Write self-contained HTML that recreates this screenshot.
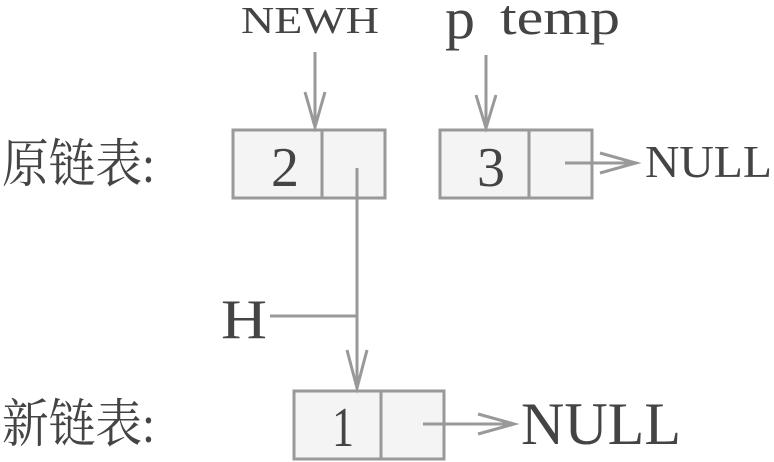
<!DOCTYPE html>
<html><head><meta charset="utf-8"><style>
html,body{margin:0;padding:0;background:#fff;}
svg{display:block;}
</style></head><body>
<svg width="774" height="462" viewBox="0 0 774 462" xmlns="http://www.w3.org/2000/svg">
<g fill="#f4f4f4" stroke="#999" stroke-width="3">
<rect x="233" y="130" width="152" height="68"/>
<line x1="322" y1="130" x2="322" y2="198"/>
<rect x="440" y="130" width="152" height="68"/>
<line x1="529" y1="130" x2="529" y2="198"/>
<rect x="294" y="391" width="150" height="68"/>
<line x1="381" y1="391" x2="381" y2="459"/>
</g>
<g stroke="#999" stroke-width="3" fill="none">
<line x1="315" y1="52" x2="315" y2="127"/>
<polyline points="305,92 315,127 325,92"/>
<line x1="486" y1="55" x2="486" y2="128"/>
<polyline points="476,95 486,128 496,95"/>
<line x1="357" y1="168" x2="357" y2="388"/>
<polyline points="347,350 357,388 367,350"/>
<line x1="270" y1="316" x2="357" y2="316"/>
<line x1="565" y1="163" x2="636" y2="163"/>
<polyline points="600,153 636,163 600,173"/>
<line x1="423" y1="424" x2="514" y2="424"/>
<polyline points="478,414 514,424 478,434"/>
</g>
<g fill="#444" font-family="'Liberation Serif','Noto Serif CJK SC',serif">
<text x="241" y="33" font-size="38" textLength="138" lengthAdjust="spacingAndGlyphs">NEWH</text>
<text x="445" y="38" font-size="58" textLength="30" lengthAdjust="spacingAndGlyphs">p</text>
<text x="500" y="34" font-size="50" textLength="120" lengthAdjust="spacingAndGlyphs">temp</text>
<text x="2" y="182" font-size="52" textLength="153" lengthAdjust="spacingAndGlyphs">原链表:</text>
<text x="2" y="442" font-size="52" textLength="153" lengthAdjust="spacingAndGlyphs">新链表:</text>
<text x="271" y="186" font-size="56" textLength="28" lengthAdjust="spacingAndGlyphs">2</text>
<text x="477" y="186" font-size="56" textLength="28" lengthAdjust="spacingAndGlyphs">3</text>
<text x="332" y="446" font-size="56" textLength="22" lengthAdjust="spacingAndGlyphs">1</text>
<text x="221" y="338" font-size="56" textLength="46" lengthAdjust="spacingAndGlyphs">H</text>
<text x="645" y="177" font-size="46" textLength="127" lengthAdjust="spacingAndGlyphs">NULL</text>
<text x="521" y="444" font-size="60" textLength="160" lengthAdjust="spacingAndGlyphs">NULL</text>
</g>
</svg>
</body></html>
